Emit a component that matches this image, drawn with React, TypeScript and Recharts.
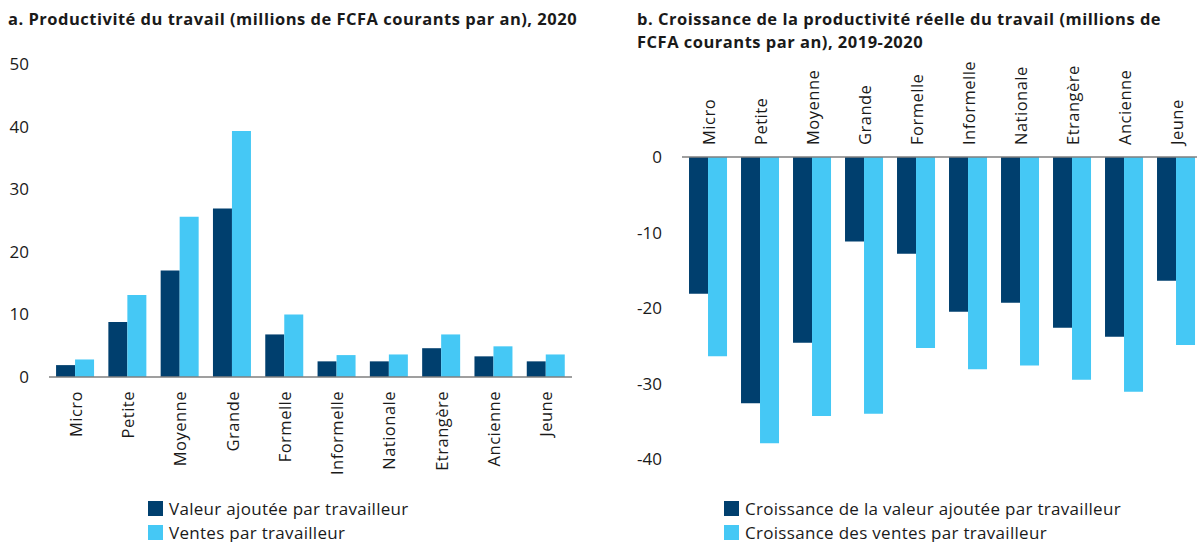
import React from 'react';
import { BarChart, Bar, XAxis, YAxis, Legend } from 'recharts';

const categories = ['Micro', 'Petite', 'Moyenne', 'Grande', 'Formelle', 'Informelle', 'Nationale', 'Etrangère', 'Ancienne', 'Jeune'];
const valeurAjoutee2020 = [1.9, 8.8, 17.0, 26.9, 6.8, 2.5, 2.5, 4.6, 3.3, 2.5];
const ventes2020 = [2.8, 13.1, 25.6, 39.3, 10.0, 3.5, 3.6, 6.8, 4.9, 3.6];
const croissanceVA = [-18.1, -32.6, -24.6, -11.2, -12.8, -20.5, -19.3, -22.6, -23.8, -16.4];
const croissanceVentes = [-26.4, -37.9, -34.3, -34.0, -25.3, -28.1, -27.6, -29.5, -31.1, -24.9];
const ticksA = [0, 10, 20, 30, 40, 50];
const ticksB = [0, -10, -20, -30, -40];

const titleA = 'a. Productivité du travail (millions de FCFA courants par an), 2020';
const titleB = 'b. Croissance de la productivité réelle du travail (millions de FCFA courants par an), 2019-2020';
const legendA = ['Valeur ajoutée par travailleur', 'Ventes par travailleur'];
const legendB = ['Croissance de la valeur ajoutée par travailleur', 'Croissance des ventes par travailleur'];

const DARK = '#003F6E';
const LIGHT = '#45C8F5';
const FONT = '"Open Sans", "Noto Sans", sans-serif';
const TEXT = '#1a1a1a';

const dataA = categories.map((c, i) => ({ cat: c, va: valeurAjoutee2020[i], ventes: ventes2020[i] }));
const dataB = categories.map((c, i) => ({ cat: c, va: croissanceVA[i], ventes: croissanceVentes[i] }));

const TickBottom = (props: any) => {
  const { x, y, payload } = props;
  return (
    <text transform={`translate(${x},${y}) rotate(-90)`} textAnchor="end" dominantBaseline="central"
      fontSize={16.5} letterSpacing={0.5} fontFamily={FONT} fill={TEXT}>{payload.value}</text>
  );
};
const TickTop = (props: any) => {
  const { x, y, payload } = props;
  return (
    <text transform={`translate(${x},${y}) rotate(-90)`} textAnchor="start" dominantBaseline="central"
      fontSize={16.5} letterSpacing={0.5} fontFamily={FONT} fill={TEXT}>{payload.value}</text>
  );
};

const makeLegend = (labels: string[]) => (props: any) => {
  const { payload } = props;
  return (
    <div style={{ fontFamily: FONT, fontSize: 17, letterSpacing: 0.3, color: TEXT }}>
      {(payload || []).map((entry: any, i: number) => (
        <div key={i} style={{ display: 'flex', alignItems: 'center', height: 24, whiteSpace: 'nowrap' }}>
          <span style={{ display: 'inline-block', width: 15, height: 15, background: entry.color, marginRight: 6 }} />
          <span>{labels[i]}</span>
        </div>
      ))}
    </div>
  );
};

export default function App() {
  return (
    <div style={{ position: 'absolute', left: 0, top: 0, width: 1197, height: 542, overflow: 'hidden', background: '#fff', fontFamily: FONT }}>
      <div style={{ position: 'absolute', left: 8, top: 7, fontSize: 16.5, letterSpacing: 0.5, fontWeight: 700, lineHeight: '23px', color: TEXT, whiteSpace: 'nowrap' }}>{titleA}</div>
      <div style={{ position: 'absolute', left: 637, top: 7, width: 545, fontSize: 16.5, letterSpacing: 0.5, fontWeight: 700, lineHeight: '23px', color: TEXT }}>{titleB}</div>

      <div style={{ position: 'absolute', left: 0, top: 0 }}>
        <BarChart width={600} height={542} data={dataA} margin={{ top: 64, right: 28, bottom: 135, left: 0 }}
          barCategoryGap="13.5%" barGap={0}>
          <XAxis dataKey="cat" height={30} tickSize={0} tickMargin={14} interval={0} tick={<TickBottom />}
            axisLine={{ stroke: '#7f7f7f', strokeWidth: 1.5 }} tickLine={false} />
          <YAxis width={49} domain={[0, 50]} ticks={ticksA} tickSize={0} tickMargin={20} axisLine={false} tickLine={false}
            tick={{ fill: TEXT, fontSize: 17, fontFamily: FONT }} />
          <Bar dataKey="va" name={legendA[0]} fill={DARK} isAnimationActive={false} />
          <Bar dataKey="ventes" name={legendA[1]} fill={LIGHT} isAnimationActive={false} />
          <Legend layout="vertical" align="center" verticalAlign="middle" content={makeLegend(legendA)}
            wrapperStyle={{ left: 148, top: 496, width: 'auto', height: 'auto' }} />
        </BarChart>
      </div>

      <div style={{ position: 'absolute', left: 600, top: 0 }}>
        <BarChart width={610} height={542} data={dataB} margin={{ top: 127, right: 8, bottom: 83, left: 0 }}
          barCategoryGap="13.5%" barGap={0}>
          <XAxis dataKey="cat" orientation="top" height={30} tickSize={0} tickMargin={12} interval={0} tick={<TickTop />}
            axisLine={{ stroke: '#7f7f7f', strokeWidth: 1.5 }} tickLine={false} />
          <YAxis width={82} domain={[-40, 0]} ticks={ticksB} tickSize={0} tickMargin={20} axisLine={false} tickLine={false}
            tick={{ fill: TEXT, fontSize: 17, fontFamily: FONT }} />
          <Bar dataKey="va" name={legendB[0]} fill={DARK} isAnimationActive={false} />
          <Bar dataKey="ventes" name={legendB[1]} fill={LIGHT} isAnimationActive={false} />
          <Legend layout="vertical" align="center" verticalAlign="middle" content={makeLegend(legendB)}
            wrapperStyle={{ left: 124, top: 496, width: 'auto', height: 'auto' }} />
        </BarChart>
      </div>
    </div>
  );
}
